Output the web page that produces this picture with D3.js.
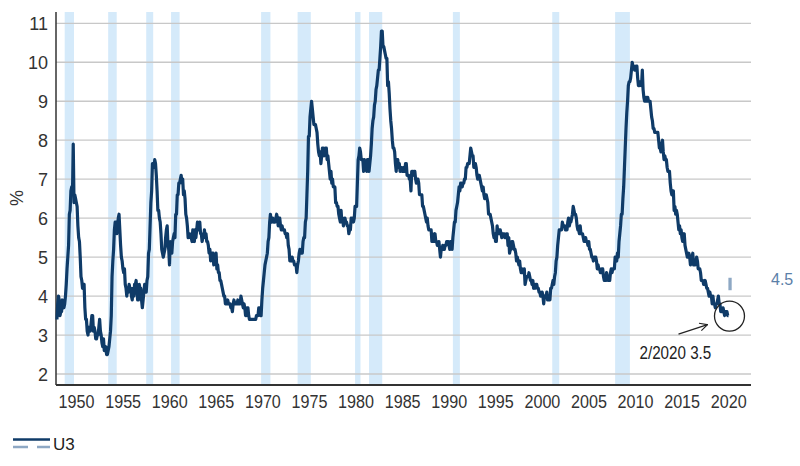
<!DOCTYPE html>
<html>
<head>
<meta charset="utf-8">
<script src="https://cdn.jsdelivr.net/npm/d3@7"></script>
<style>
  body { margin: 0; background: #fff; }
  svg { display: block; font-family: "Liberation Sans", Arial, sans-serif; }
</style>
</head>
<body>
<svg id="chart" width="800" height="466"></svg>
<script>
// monthly U3 unemployment rate (%), one row per year, Jan..Dec
const u3_1940s = [
  3.4,3.8,4.0,3.9,3.5,3.6,3.6,3.9,3.8,3.7,3.8,4.0,
  4.3,4.7,5.0,5.3,6.1,6.2,6.7,6.8,6.6,7.9,6.4,6.6];
const u3_1950s = [
  6.5,6.4,6.3,5.8,5.5,5.4,5.0,4.5,4.4,4.2,4.2,4.3,
  3.7,3.4,3.4,3.1,3.0,3.2,3.1,3.1,3.3,3.5,3.5,3.1,
  3.2,3.1,2.9,2.9,3.0,3.0,3.2,3.4,3.1,3.0,2.8,2.7,
  2.9,2.6,2.6,2.7,2.5,2.5,2.6,2.7,2.9,3.1,3.5,4.5,
  4.9,5.2,5.7,5.9,5.9,5.6,5.8,6.0,6.1,5.7,5.3,5.0,
  4.9,4.7,4.6,4.7,4.3,4.2,4.0,4.2,4.1,4.3,4.2,4.2,
  4.0,3.9,4.2,4.0,4.3,4.3,4.4,4.1,3.9,3.9,4.3,4.2,
  4.2,3.9,3.7,3.9,4.1,4.3,4.2,4.1,4.4,4.5,5.1,5.2,
  5.8,6.4,6.7,7.4,7.4,7.3,7.5,7.4,7.1,6.7,6.2,6.2,
  6.0,5.9,5.6,5.2,5.1,5.0,5.1,5.2,5.5,5.7,5.8,5.3];
const u3_1960s = [
  5.2,4.8,5.4,5.2,5.1,5.4,5.5,5.6,5.5,6.1,6.1,6.6,
  6.6,6.9,6.9,7.0,7.1,6.9,7.0,6.6,6.7,6.5,6.1,6.0,
  5.8,5.5,5.6,5.6,5.5,5.5,5.4,5.7,5.6,5.4,5.7,5.5,
  5.7,5.9,5.7,5.7,5.9,5.6,5.6,5.4,5.5,5.5,5.7,5.5,
  5.6,5.4,5.4,5.3,5.1,5.2,4.9,5.0,5.1,5.1,4.8,5.0,
  4.9,5.1,4.7,4.8,4.6,4.6,4.4,4.4,4.3,4.2,4.1,4.0,
  4.0,3.8,3.8,3.8,3.9,3.8,3.8,3.8,3.7,3.7,3.6,3.8,
  3.9,3.8,3.8,3.8,3.8,3.9,3.8,3.8,3.8,4.0,3.9,3.8,
  3.7,3.8,3.7,3.5,3.5,3.7,3.7,3.5,3.4,3.4,3.4,3.4,
  3.4,3.4,3.4,3.4,3.4,3.5,3.5,3.5,3.7,3.7,3.5,3.5];
const u3_1970s = [
  3.9,4.2,4.4,4.6,4.8,4.9,5.0,5.1,5.4,5.5,5.9,6.1,
  5.9,5.9,6.0,5.9,5.9,5.9,6.0,6.1,6.0,5.8,6.0,6.0,
  5.8,5.7,5.8,5.7,5.7,5.7,5.6,5.6,5.5,5.6,5.3,5.2,
  4.9,5.0,4.9,5.0,4.9,4.9,4.8,4.8,4.8,4.6,4.8,4.9,
  5.1,5.2,5.1,5.1,5.1,5.4,5.5,5.5,5.9,6.0,6.6,7.2,
  8.1,8.1,8.6,8.8,9.0,8.8,8.6,8.4,8.4,8.4,8.3,8.2,
  7.9,7.7,7.6,7.7,7.4,7.6,7.8,7.8,7.6,7.7,7.8,7.8,
  7.5,7.6,7.4,7.2,7.0,7.2,6.9,7.0,6.8,6.8,6.8,6.4,
  6.4,6.3,6.3,6.1,6.0,5.9,6.2,5.9,6.0,5.8,5.9,6.0,
  5.9,5.9,5.8,5.8,5.6,5.7,5.7,6.0,5.9,6.0,5.9,6.0];
const u3_1980s = [
  6.3,6.3,6.3,6.9,7.5,7.6,7.8,7.7,7.5,7.5,7.5,7.2,
  7.5,7.4,7.4,7.2,7.5,7.5,7.2,7.4,7.6,7.9,8.3,8.5,
  8.6,8.9,9.0,9.3,9.4,9.6,9.8,9.8,10.1,10.4,10.8,10.8,
  10.4,10.4,10.3,10.2,10.1,10.1,9.4,9.5,9.2,8.8,8.5,8.3,
  8.0,7.8,7.8,7.7,7.4,7.2,7.5,7.5,7.3,7.4,7.2,7.3,
  7.3,7.2,7.2,7.3,7.2,7.4,7.4,7.1,7.1,7.1,7.0,7.0,
  6.7,7.2,7.2,7.1,7.2,7.2,7.0,6.9,7.0,7.0,6.9,6.6,
  6.6,6.6,6.6,6.3,6.3,6.2,6.1,6.0,5.9,6.0,5.8,5.7,
  5.7,5.7,5.7,5.4,5.6,5.4,5.4,5.6,5.4,5.4,5.3,5.3,
  5.4,5.2,5.0,5.2,5.2,5.3,5.2,5.2,5.3,5.3,5.4,5.4];
const u3_1990s = [
  5.4,5.3,5.2,5.4,5.4,5.2,5.5,5.7,5.9,5.9,6.2,6.3,
  6.4,6.6,6.8,6.7,6.9,6.9,6.8,6.9,6.9,7.0,7.0,7.3,
  7.3,7.4,7.4,7.4,7.6,7.8,7.7,7.6,7.6,7.3,7.4,7.4,
  7.3,7.1,7.0,7.1,7.1,7.0,6.9,6.8,6.7,6.8,6.6,6.5,
  6.6,6.6,6.5,6.4,6.1,6.1,6.1,6.0,5.9,5.8,5.6,5.5,
  5.6,5.4,5.4,5.8,5.6,5.6,5.7,5.7,5.6,5.5,5.6,5.6,
  5.6,5.5,5.5,5.6,5.6,5.3,5.5,5.1,5.2,5.2,5.4,5.4,
  5.3,5.2,5.2,5.1,4.9,5.0,4.9,4.8,4.9,4.7,4.6,4.7,
  4.6,4.6,4.7,4.3,4.4,4.5,4.5,4.5,4.6,4.5,4.4,4.4,
  4.3,4.4,4.2,4.3,4.2,4.3,4.3,4.2,4.2,4.1,4.1,4.0];
const u3_2000s = [
  4.0,4.1,4.0,3.8,4.0,4.0,4.0,4.1,3.9,3.9,3.9,3.9,
  4.2,4.2,4.3,4.4,4.3,4.5,4.6,4.9,5.0,5.3,5.5,5.7,
  5.7,5.7,5.7,5.9,5.8,5.8,5.8,5.7,5.7,5.7,5.9,6.0,
  5.8,5.9,5.9,6.0,6.1,6.3,6.2,6.1,6.1,6.0,5.8,5.7,
  5.7,5.6,5.8,5.6,5.6,5.6,5.5,5.4,5.4,5.5,5.4,5.4,
  5.3,5.4,5.2,5.2,5.1,5.0,5.0,4.9,5.0,5.0,5.0,4.9,
  4.7,4.8,4.7,4.7,4.6,4.6,4.7,4.7,4.5,4.4,4.5,4.4,
  4.6,4.5,4.4,4.5,4.4,4.6,4.7,4.6,4.7,4.7,4.7,5.0,
  5.0,4.9,5.1,5.0,5.4,5.6,5.8,6.1,6.1,6.5,6.8,7.3,
  7.8,8.3,8.7,9.0,9.4,9.5,9.5,9.6,9.8,10.0,9.9,9.9];
const u3_2010s = [
  9.8,9.8,9.9,9.9,9.6,9.4,9.4,9.5,9.5,9.4,9.8,9.3,
  9.1,9.0,9.0,9.1,9.0,9.1,9.0,9.0,9.0,8.8,8.6,8.5,
  8.3,8.3,8.2,8.2,8.2,8.2,8.2,8.0,7.8,7.8,7.7,7.9,
  8.0,7.7,7.5,7.6,7.5,7.5,7.3,7.2,7.2,7.2,6.9,6.7,
  6.6,6.7,6.7,6.2,6.3,6.1,6.2,6.1,5.9,5.7,5.8,5.6,
  5.7,5.5,5.4,5.4,5.6,5.3,5.2,5.1,5.0,5.0,5.1,5.0,
  4.8,4.9,5.0,5.1,4.8,4.9,4.8,4.9,5.0,4.9,4.7,4.7,
  4.7,4.6,4.4,4.4,4.4,4.3,4.3,4.4,4.3,4.2,4.2,4.1,
  4.0,4.1,4.0,4.0,3.8,4.0,3.8,3.8,3.7,3.8,3.8,3.9,
  4.0,3.8,3.8,3.6,3.6,3.6,3.7,3.6,3.5,3.6,3.6,3.6];
const u3_2020s = [3.5,3.5];

// NBER recessions, peak month to trough month
const recessionStart = ["1948-11","1953-07","1957-08","1960-04","1969-12","1973-11","1980-01","1981-07","1990-07","2001-03","2007-12"];
const recessionEnd   = ["1949-10","1954-05","1958-04","1961-02","1970-11","1975-03","1980-07","1982-11","1991-03","2001-11","2009-06"];

// axis ticks
const yTicks = [2,3,4,5,6,7,8,9,10,11];
const xTicks = [1950,1955,1960,1965,1970,1975,1980,1985,1990,1995,2000,2005,2010,2015,2020];

// annotations
const lastLabel = "2/2020 3.5";
const lastValue = 3.5;
const longRunLabel = "4.5";
const longRunRange = [4.15, 4.47];
const seriesName = "U3";

const u3 = [].concat(u3_1940s, u3_1950s, u3_1960s, u3_1970s, u3_1980s, u3_1990s, u3_2000s, u3_2010s, u3_2020s);
const data = u3.map((v, i) => ({date: 1948 + i / 12, value: v}));
const last = data[data.length - 1];

const toYear = (s) => { const [y, m] = s.split("-").map(Number); return y + (m - 1) / 12; };
const recessions = recessionStart.map((s, i) => ({start: toYear(s), end: toYear(recessionEnd[i]) + 1 / 12}));

const svg = d3.select("#chart");

const x = d3.scaleLinear().domain([1947.9, 2022.5]).range([56, 751]);
const y = d3.scaleLinear().domain([1.718, 11.29]).range([385, 12]);

// recession shading
svg.append("g")
  .selectAll("rect")
  .data(recessions)
  .join("rect")
  .attr("x", d => x(d.start))
  .attr("width", d => x(d.end) - x(d.start))
  .attr("y", y.range()[1])
  .attr("height", y.range()[0] - y.range()[1])
  .attr("fill", "#d5eafa");

// gridlines
svg.append("g")
  .selectAll("line")
  .data(yTicks)
  .join("line")
  .attr("x1", x.range()[0])
  .attr("x2", x.range()[1])
  .attr("y1", d => y(d))
  .attr("y2", d => y(d))
  .attr("stroke", "#c8c8c8")
  .attr("stroke-width", 1.3);

// y tick labels
svg.append("g")
  .selectAll("text")
  .data(yTicks)
  .join("text")
  .attr("x", 48)
  .attr("y", d => y(d) + 6.5)
  .attr("text-anchor", "end")
  .style("font-size", "18px")
  .style("fill", "#333")
  .text(d => d);

// x tick labels (narrow type)
svg.append("g")
  .selectAll("text")
  .data(xTicks)
  .join("text")
  .attr("transform", d => `translate(${x(d) + 1},408) scale(0.85,1)`)
  .attr("text-anchor", "middle")
  .style("font-size", "19px")
  .style("fill", "#333")
  .text(d => d);

// axes lines
svg.append("line")
  .attr("x1", x.range()[0]).attr("x2", x.range()[0])
  .attr("y1", y.range()[1]).attr("y2", y.range()[0])
  .attr("stroke", "#333").attr("stroke-width", 1.5);
svg.append("line")
  .attr("x1", x.range()[0]).attr("x2", x.range()[1])
  .attr("y1", y.range()[0]).attr("y2", y.range()[0])
  .attr("stroke", "#333").attr("stroke-width", 2);

// y axis title
svg.append("text")
  .attr("transform", "translate(23,198) rotate(-90)")
  .attr("text-anchor", "middle")
  .style("font-size", "18px")
  .style("fill", "#333")
  .text("%");

// U3 line
svg.append("path")
  .datum(data)
  .attr("d", d3.line().x(d => x(d.date)).y(d => y(d.value)))
  .attr("fill", "none")
  .attr("stroke", "#0f3b68")
  .attr("stroke-width", 3.2)
  .attr("stroke-linejoin", "round");

// long-run marker and label
svg.append("line")
  .attr("x1", x(2020.25)).attr("x2", x(2020.25))
  .attr("y1", y(longRunRange[1])).attr("y2", y(longRunRange[0]))
  .attr("stroke", "#8ea8c4").attr("stroke-width", 3.3);
svg.append("text")
  .attr("x", 771)
  .attr("y", y(4.5) + 8)
  .style("font-size", "16px")
  .style("fill", "#5b80a8")
  .text(longRunLabel);

// last point annotation
const px = x(last.date), py = y(lastValue);
svg.append("circle")
  .attr("cx", px + 1).attr("cy", py + 0.5).attr("r", 15)
  .attr("fill", "none").attr("stroke", "#222").attr("stroke-width", 1.3);

svg.append("defs").append("marker")
  .attr("id", "arrow")
  .attr("viewBox", "0 0 10 10")
  .attr("refX", 9).attr("refY", 5)
  .attr("markerWidth", 8).attr("markerHeight", 8)
  .attr("orient", "auto")
  .append("path")
  .attr("d", "M1,1 L9,5 L1,9")
  .attr("fill", "none").attr("stroke", "#222").attr("stroke-width", 1.2);

svg.append("line")
  .attr("x1", px - 50).attr("y1", py + 18.5)
  .attr("x2", px - 21).attr("y2", py + 9)
  .attr("stroke", "#222").attr("stroke-width", 1.2)
  .attr("marker-end", "url(#arrow)");

svg.append("text")
  .attr("transform", `translate(${px - 89},${py + 43.5}) scale(0.8,1)`)
  .style("font-size", "19px")
  .style("fill", "#222")
  .text(lastLabel);

// legend
svg.append("line").attr("x1", 13).attr("x2", 50).attr("y1", 439.5).attr("y2", 439.5)
  .attr("stroke", "#0f3b68").attr("stroke-width", 2.5);
svg.append("line").attr("x1", 13).attr("x2", 50).attr("y1", 447).attr("y2", 447)
  .attr("stroke", "#8ea8c4").attr("stroke-width", 2.5)
  .attr("stroke-dasharray", "15,9");
svg.append("text").attr("x", 53).attr("y", 450)
  .style("font-size", "17px").style("fill", "#222")
  .text(seriesName);
</script>
</body>
</html>
